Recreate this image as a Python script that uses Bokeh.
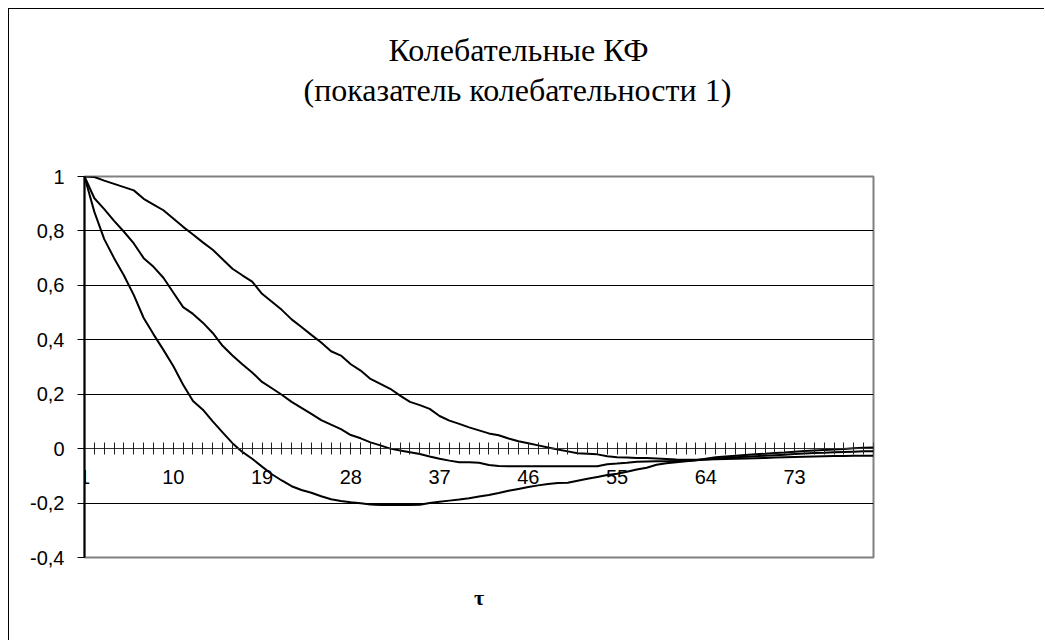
from bokeh.plotting import figure
from bokeh.models import Range1d, FixedTicker, Title
from bokeh.embed import file_html
from bokeh.resources import INLINE

tau = list(range(1, 82))

kf_fast = [1.0, 0.87, 0.77, 0.70, 0.636, 0.564, 0.48, 0.42, 0.363, 0.304,
           0.235, 0.175, 0.143, 0.10, 0.06, 0.02, -0.012, -0.037, -0.066, -0.094,
           -0.117, -0.138, -0.152, -0.162, -0.175, -0.186, -0.192, -0.197, -0.201, -0.205,
           -0.207, -0.207, -0.207, -0.207, -0.206, -0.200, -0.195, -0.191, -0.187, -0.182,
           -0.176, -0.170, -0.163, -0.155, -0.148, -0.141, -0.135, -0.130, -0.126, -0.125,
           -0.118, -0.111, -0.104, -0.097, -0.092, -0.085, -0.077, -0.070, -0.059, -0.054,
           -0.050, -0.046, -0.043, -0.037, -0.032, -0.029, -0.026, -0.023, -0.021, -0.019,
           -0.016, -0.014, -0.011, -0.009, -0.007, -0.005, -0.003, -0.001, 0.001, 0.003,
           0.004]

kf_mid = [1.0, 0.92, 0.88, 0.837, 0.797, 0.754, 0.70, 0.668, 0.628, 0.574,
          0.52, 0.495, 0.463, 0.425, 0.378, 0.342, 0.31, 0.28, 0.245, 0.222,
          0.198, 0.172, 0.150, 0.128, 0.105, 0.088, 0.072, 0.050, 0.038, 0.023,
          0.012, 0.0, -0.007, -0.013, -0.020, -0.029, -0.037, -0.044, -0.050, -0.050,
          -0.052, -0.060, -0.064, -0.065, -0.065, -0.065, -0.065, -0.065, -0.065, -0.065,
          -0.065, -0.065, -0.065, -0.057, -0.055, -0.052, -0.048, -0.047, -0.046, -0.046,
          -0.045, -0.045, -0.043, -0.040, -0.037, -0.034, -0.032, -0.030, -0.028, -0.026,
          -0.024, -0.022, -0.020, -0.018, -0.016, -0.015, -0.013, -0.012, -0.011, -0.010,
          -0.010]

kf_slow = [1.0, 0.998, 0.985, 0.973, 0.961, 0.949, 0.918, 0.897, 0.876, 0.846,
           0.815, 0.787, 0.758, 0.731, 0.696, 0.661, 0.637, 0.614, 0.569, 0.54,
           0.51, 0.475, 0.447, 0.418, 0.39, 0.358, 0.342, 0.310, 0.287, 0.256,
           0.238, 0.220, 0.195, 0.172, 0.160, 0.146, 0.120, 0.103, 0.091, 0.078,
           0.067, 0.056, 0.049, 0.037, 0.027, 0.020, 0.012, 0.004, -0.003, -0.010,
           -0.017, -0.019, -0.021, -0.028, -0.032, -0.033, -0.034, -0.034, -0.036, -0.038,
           -0.040, -0.041, -0.041, -0.040, -0.039, -0.038, -0.037, -0.036, -0.035, -0.034,
           -0.033, -0.032, -0.031, -0.030, -0.029, -0.028, -0.027, -0.027, -0.026, -0.026,
           -0.026]

y_ticks = [-0.4, -0.2, 0, 0.2, 0.4, 0.6, 0.8, 1]
y_tick_labels = ["-0,4", "-0,2", "0", "0,2", "0,4", "0,6", "0,8", "1"]
x_label_ticks = [1, 10, 19, 28, 37, 46, 55, 64, 73]
title_lines = ["Колебательные КФ", "(показатель колебательности 1)"]
x_title = "τ"

p = figure(width=1036, height=632, output_backend="svg", toolbar_location=None,
           x_range=Range1d(1, 81), y_range=Range1d(-0.4, 1.0),
           min_border_left=75, min_border_right=172,
           min_border_top=167, min_border_bottom=84)
p.styles = {"border-left": "1px solid #000000", "border-top": "1px solid #000000",
            "margin-left": "8px", "margin-top": "8px"}
p.background_fill_color = "white"
p.border_fill_color = "white"
p.outline_line_color = "#808080"
p.outline_line_width = 2

# grid
p.xgrid.visible = False
p.ygrid.ticker = FixedTicker(ticks=[-0.2, 0.2, 0.4, 0.6, 0.8])
p.ygrid.grid_line_color = "black"
p.ygrid.grid_line_width = 1

# y axis
ya = p.yaxis[0]
ya.ticker = FixedTicker(ticks=y_ticks)
ya.major_label_overrides = {t: s for t, s in zip(y_ticks, y_tick_labels)}
ya.minor_tick_line_color = None
ya.major_tick_in = 0
ya.major_tick_out = 7
ya.axis_line_width = 2
ya.axis_line_color = "black"
ya.major_tick_line_color = "black"
ya.major_label_standoff = 13
ya.major_label_text_font = "Liberation Sans"
ya.major_label_text_font_size = "20px"
ya.major_label_text_color = "black"

# x axis at y = 0
xa = p.xaxis[0]
xa.fixed_location = 0
xa.ticker = FixedTicker(ticks=tau)
xa.major_label_overrides = {t: (str(t) if t in x_label_ticks else "") for t in tau}
xa.minor_tick_line_color = None
xa.major_tick_in = 6
xa.major_tick_out = 6
xa.axis_line_color = "#303030"
xa.axis_line_width = 1
xa.major_tick_line_color = "#202020"
xa.major_tick_line_width = 1
xa.major_label_standoff = 15
xa.major_label_text_font = "Liberation Sans"
xa.major_label_text_font_size = "20px"
xa.major_label_text_color = "black"

for series in (kf_fast, kf_mid, kf_slow):
    p.line(tau, series, line_color="black", line_width=2)

# titles above the frame: first added sits closest to the frame
p.add_layout(Title(text=" ", text_font_size="20px", standoff=44), "above")
p.add_layout(Title(text=title_lines[1], align="left", offset=219, standoff=2,
                   text_font="Liberation Serif", text_font_style="normal",
                   text_font_size="32px", text_color="black"), "above")
p.add_layout(Title(text=title_lines[0], align="left", offset=304, standoff=2,
                   text_font="Liberation Serif", text_font_style="normal",
                   text_font_size="32px", text_color="black"), "above")

# axis title below the frame
p.add_layout(Title(text=x_title, align="center", vertical_align="bottom", standoff=50,
                   text_font="Liberation Serif", text_font_style="bold",
                   text_font_size="22px", text_color="black"), "below")

open("out.html", "w").write(file_html(p, INLINE))
